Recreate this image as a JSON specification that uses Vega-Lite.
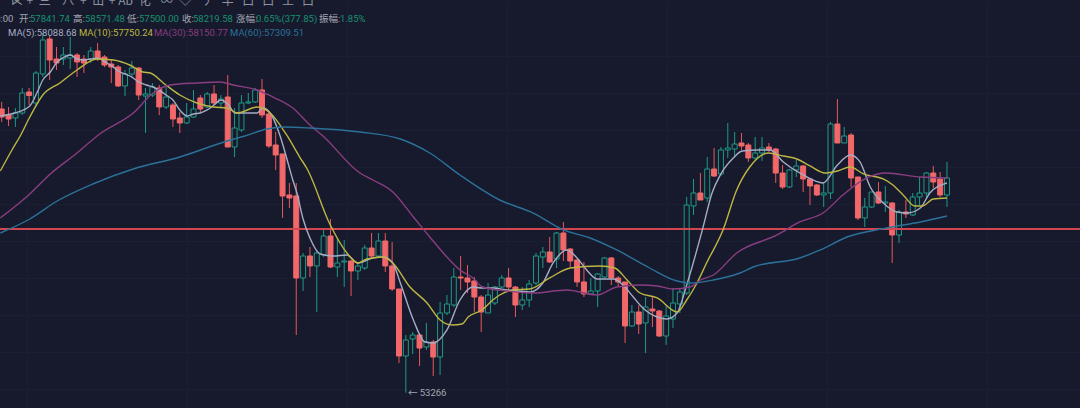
{
  "$schema": "https://vega.github.io/schema/vega-lite/v6.json",
  "width": 1080,
  "height": 408,
  "padding": 0,
  "autosize": "none",
  "background": "#161a2c",
  "config": {"view": {"stroke": null}},
  "datasets": {
    "candles": [
      {"i":0,"open":59720,"high":59880,"low":59425,"close":59538},
      {"i":1,"open":59584,"high":59766,"low":59334,"close":59493},
      {"i":2,"open":59516,"high":59743,"low":59311,"close":59629},
      {"i":3,"open":59629,"high":60198,"low":59584,"close":60084},
      {"i":4,"open":60107,"high":60198,"low":59811,"close":60028},
      {"i":5,"open":59857,"high":60585,"low":59766,"close":60539},
      {"i":6,"open":60517,"high":61449,"low":60448,"close":61290},
      {"i":7,"open":61313,"high":61404,"low":60380,"close":60835},
      {"i":8,"open":60858,"high":61131,"low":60608,"close":60767},
      {"i":9,"open":60858,"high":61131,"low":60721,"close":60949},
      {"i":10,"open":60881,"high":61358,"low":60630,"close":60949},
      {"i":11,"open":60949,"high":60994,"low":60448,"close":60790},
      {"i":12,"open":60858,"high":60949,"low":60539,"close":60767},
      {"i":13,"open":60858,"high":61131,"low":60767,"close":61040},
      {"i":14,"open":61040,"high":61222,"low":60812,"close":60858},
      {"i":15,"open":60903,"high":60949,"low":60676,"close":60721},
      {"i":16,"open":60744,"high":60835,"low":60312,"close":60676},
      {"i":17,"open":60676,"high":60721,"low":60221,"close":60244},
      {"i":18,"open":60244,"high":60608,"low":60016,"close":60517},
      {"i":19,"open":60517,"high":60812,"low":60426,"close":60653},
      {"i":20,"open":60653,"high":60676,"low":59925,"close":60039},
      {"i":21,"open":60016,"high":60198,"low":59174,"close":60062},
      {"i":22,"open":60039,"high":60312,"low":59993,"close":60221},
      {"i":23,"open":60198,"high":60266,"low":59584,"close":59766},
      {"i":24,"open":59766,"high":60221,"low":59720,"close":59993},
      {"i":25,"open":59811,"high":59857,"low":59311,"close":59493},
      {"i":26,"open":59516,"high":59652,"low":59174,"close":59402},
      {"i":27,"open":59402,"high":59857,"low":59379,"close":59538},
      {"i":28,"open":59538,"high":60153,"low":59516,"close":59720},
      {"i":29,"open":59971,"high":60039,"low":59652,"close":59720},
      {"i":30,"open":59766,"high":60107,"low":59743,"close":60062},
      {"i":31,"open":60062,"high":60266,"low":59811,"close":59857},
      {"i":32,"open":59857,"high":60039,"low":59766,"close":59948},
      {"i":33,"open":59993,"high":60494,"low":58856,"close":58856},
      {"i":34,"open":58856,"high":59743,"low":58628,"close":59288},
      {"i":35,"open":59243,"high":60039,"low":59197,"close":59857},
      {"i":36,"open":59857,"high":60084,"low":59834,"close":59880},
      {"i":37,"open":59880,"high":60198,"low":59857,"close":60153},
      {"i":38,"open":60153,"high":60403,"low":59516,"close":59584},
      {"i":39,"open":59607,"high":59652,"low":58833,"close":58879},
      {"i":40,"open":58901,"high":59197,"low":58333,"close":58674},
      {"i":41,"open":58697,"high":58697,"low":57241,"close":57741},
      {"i":42,"open":57764,"high":58037,"low":57468,"close":57696},
      {"i":43,"open":57741,"high":58037,"low":54579,"close":55876},
      {"i":44,"open":55876,"high":56444,"low":55580,"close":56376},
      {"i":45,"open":56376,"high":56581,"low":55898,"close":56149},
      {"i":46,"open":56149,"high":56513,"low":55102,"close":56444},
      {"i":47,"open":56399,"high":56990,"low":56353,"close":56831},
      {"i":48,"open":56831,"high":57218,"low":56103,"close":56126},
      {"i":49,"open":56126,"high":56786,"low":55898,"close":56217},
      {"i":50,"open":56240,"high":56740,"low":55671,"close":56262},
      {"i":51,"open":56262,"high":56285,"low":55466,"close":56035},
      {"i":52,"open":56035,"high":56240,"low":55830,"close":56149},
      {"i":53,"open":56103,"high":56626,"low":56058,"close":56558},
      {"i":54,"open":56558,"high":56899,"low":56353,"close":56376},
      {"i":55,"open":56376,"high":56899,"low":56353,"close":56717},
      {"i":56,"open":56717,"high":56899,"low":56012,"close":56149},
      {"i":57,"open":56149,"high":56695,"low":55580,"close":55625},
      {"i":58,"open":55625,"high":55625,"low":53943,"close":54101},
      {"i":59,"open":54101,"high":54579,"low":53266,"close":54465},
      {"i":60,"open":54488,"high":54647,"low":54147,"close":54579},
      {"i":61,"open":54579,"high":54624,"low":53874,"close":54283},
      {"i":62,"open":54306,"high":54852,"low":54238,"close":54420},
      {"i":63,"open":54420,"high":54465,"low":53646,"close":54078},
      {"i":64,"open":54078,"high":55330,"low":53669,"close":55079},
      {"i":65,"open":55079,"high":55489,"low":55034,"close":55284},
      {"i":66,"open":55261,"high":56103,"low":55216,"close":55898},
      {"i":67,"open":55898,"high":56376,"low":55603,"close":55876},
      {"i":68,"open":55876,"high":56171,"low":55534,"close":55785},
      {"i":69,"open":55807,"high":55898,"low":55102,"close":55443},
      {"i":70,"open":55443,"high":55489,"low":54647,"close":55102},
      {"i":71,"open":55079,"high":55762,"low":55079,"close":55489},
      {"i":72,"open":55307,"high":55694,"low":55261,"close":55671},
      {"i":73,"open":55671,"high":55944,"low":55648,"close":55876},
      {"i":74,"open":55876,"high":56103,"low":55557,"close":55671},
      {"i":75,"open":55671,"high":55694,"low":54988,"close":55261},
      {"i":76,"open":55261,"high":55671,"low":55148,"close":55375},
      {"i":77,"open":55375,"high":55830,"low":55216,"close":55739},
      {"i":78,"open":55762,"high":56444,"low":55716,"close":56376},
      {"i":79,"open":56353,"high":56581,"low":56103,"close":56467},
      {"i":80,"open":56467,"high":56808,"low":56217,"close":56240},
      {"i":81,"open":56308,"high":56922,"low":56103,"close":56899},
      {"i":82,"open":56899,"high":57150,"low":56262,"close":56513},
      {"i":83,"open":56535,"high":56558,"low":56126,"close":56262},
      {"i":84,"open":56285,"high":56308,"low":55671,"close":55785},
      {"i":85,"open":55785,"high":56240,"low":55443,"close":55512},
      {"i":86,"open":55512,"high":55876,"low":55489,"close":55580},
      {"i":87,"open":55580,"high":55989,"low":55216,"close":55967},
      {"i":88,"open":55898,"high":56353,"low":55876,"close":56331},
      {"i":89,"open":56331,"high":56353,"low":55716,"close":55876},
      {"i":90,"open":55876,"high":55921,"low":55671,"close":55785},
      {"i":91,"open":55785,"high":55785,"low":54397,"close":54784},
      {"i":92,"open":54784,"high":55261,"low":54761,"close":55102},
      {"i":93,"open":55102,"high":55261,"low":54602,"close":54829},
      {"i":94,"open":54852,"high":55443,"low":54169,"close":55216},
      {"i":95,"open":55170,"high":55443,"low":54761,"close":55125},
      {"i":96,"open":55125,"high":55148,"low":54533,"close":54556},
      {"i":97,"open":54556,"high":55239,"low":54351,"close":55011},
      {"i":98,"open":54943,"high":55648,"low":54738,"close":55307},
      {"i":99,"open":55284,"high":55625,"low":55079,"close":55557},
      {"i":100,"open":55534,"high":57718,"low":55489,"close":57536},
      {"i":101,"open":57514,"high":58128,"low":57309,"close":57809},
      {"i":102,"open":57809,"high":58264,"low":57650,"close":57650},
      {"i":103,"open":57696,"high":58628,"low":57605,"close":58355},
      {"i":104,"open":58355,"high":58833,"low":58173,"close":58196},
      {"i":105,"open":58242,"high":58856,"low":58196,"close":58788},
      {"i":106,"open":58788,"high":59402,"low":58606,"close":58833},
      {"i":107,"open":58810,"high":59197,"low":58628,"close":58924},
      {"i":108,"open":58947,"high":59174,"low":58788,"close":58879},
      {"i":109,"open":58901,"high":58947,"low":58515,"close":58606},
      {"i":110,"open":58606,"high":59083,"low":58560,"close":58719},
      {"i":111,"open":58719,"high":59083,"low":58537,"close":58833},
      {"i":112,"open":58856,"high":58947,"low":58742,"close":58788},
      {"i":113,"open":58810,"high":58833,"low":58037,"close":58264},
      {"i":114,"open":58264,"high":58446,"low":57900,"close":57946},
      {"i":115,"open":57946,"high":58355,"low":57923,"close":58333},
      {"i":116,"open":58333,"high":58560,"low":58173,"close":58424},
      {"i":117,"open":58424,"high":58446,"low":57832,"close":58128},
      {"i":118,"open":58128,"high":58151,"low":57536,"close":57969},
      {"i":119,"open":57991,"high":58014,"low":57741,"close":57764},
      {"i":120,"open":57764,"high":58037,"low":57491,"close":57809},
      {"i":121,"open":57809,"high":59425,"low":57673,"close":59379},
      {"i":122,"open":59379,"high":59948,"low":58947,"close":58947},
      {"i":123,"open":58947,"high":59311,"low":58947,"close":59106},
      {"i":124,"open":59129,"high":59174,"low":57946,"close":58151},
      {"i":125,"open":58173,"high":58173,"low":57195,"close":57241},
      {"i":126,"open":57241,"high":57696,"low":57036,"close":57491},
      {"i":127,"open":57491,"high":57832,"low":57468,"close":57832},
      {"i":128,"open":57832,"high":58060,"low":57559,"close":57582},
      {"i":129,"open":57582,"high":57969,"low":57377,"close":57605},
      {"i":130,"open":57582,"high":57605,"low":56217,"close":56854},
      {"i":131,"open":56854,"high":57423,"low":56672,"close":57377},
      {"i":132,"open":57377,"high":57650,"low":57241,"close":57332},
      {"i":133,"open":57309,"high":57809,"low":57286,"close":57718},
      {"i":134,"open":57718,"high":58173,"low":57536,"close":57809},
      {"i":135,"open":57809,"high":58287,"low":57718,"close":58264},
      {"i":136,"open":58264,"high":58424,"low":57923,"close":58060},
      {"i":137,"open":58128,"high":58287,"low":57718,"close":57764},
      {"i":138,"open":57764,"high":58515,"low":57491,"close":58151}
    ],
    "ma": [
      {"i":-0.2,"ma":"MA5","price":59561},{"i":1.9,"ma":"MA5","price":59629},{"i":4.1,"ma":"MA5","price":59789},{"i":5.2,"ma":"MA5","price":60107},{"i":6,"ma":"MA5","price":60380},{"i":7.1,"ma":"MA5","price":60562},{"i":8.1,"ma":"MA5","price":60790},{"i":9.1,"ma":"MA5","price":60903},{"i":10,"ma":"MA5","price":60949},{"i":11,"ma":"MA5","price":60858},{"i":12,"ma":"MA5","price":60835},{"i":13,"ma":"MA5","price":60858},{"i":14.1,"ma":"MA5","price":60881},{"i":15.1,"ma":"MA5","price":60790},{"i":16.1,"ma":"MA5","price":60699},{"i":17,"ma":"MA5","price":60585},{"i":18,"ma":"MA5","price":60517},{"i":19,"ma":"MA5","price":60448},{"i":20,"ma":"MA5","price":60335},{"i":21.1,"ma":"MA5","price":60266},{"i":22.1,"ma":"MA5","price":60221},{"i":24,"ma":"MA5","price":60039},{"i":25,"ma":"MA5","price":59925},{"i":26,"ma":"MA5","price":59698},{"i":27.1,"ma":"MA5","price":59561},{"i":28,"ma":"MA5","price":59607},{"i":29,"ma":"MA5","price":59629},{"i":30,"ma":"MA5","price":59698},{"i":31,"ma":"MA5","price":59811},{"i":32,"ma":"MA5","price":59925},{"i":33,"ma":"MA5","price":59834},{"i":34.1,"ma":"MA5","price":59629},{"i":36,"ma":"MA5","price":59629},{"i":37.3,"ma":"MA5","price":59629},{"i":38.1,"ma":"MA5","price":59743},{"i":39.2,"ma":"MA5","price":59629},{"i":40.6,"ma":"MA5","price":59129},{"i":41.8,"ma":"MA5","price":58492},{"i":42.5,"ma":"MA5","price":58105},{"i":43.1,"ma":"MA5","price":57809},{"i":44,"ma":"MA5","price":57218},{"i":45,"ma":"MA5","price":56786},{"i":46.5,"ma":"MA5","price":56422},{"i":48.4,"ma":"MA5","price":56376},{"i":50.4,"ma":"MA5","price":56399},{"i":52,"ma":"MA5","price":56217},{"i":54.2,"ma":"MA5","price":56331},{"i":55.7,"ma":"MA5","price":56353},{"i":57.1,"ma":"MA5","price":56217},{"i":58.2,"ma":"MA5","price":55762},{"i":60.1,"ma":"MA5","price":54920},{"i":61.8,"ma":"MA5","price":54420},{"i":63,"ma":"MA5","price":54397},{"i":65,"ma":"MA5","price":54693},{"i":66.9,"ma":"MA5","price":55375},{"i":68.8,"ma":"MA5","price":55671},{"i":70.1,"ma":"MA5","price":55648},{"i":71.7,"ma":"MA5","price":55648},{"i":73.8,"ma":"MA5","price":55603},{"i":75.2,"ma":"MA5","price":55580},{"i":77.1,"ma":"MA5","price":55557},{"i":79,"ma":"MA5","price":55762},{"i":80.5,"ma":"MA5","price":56217},{"i":82.5,"ma":"MA5","price":56513},{"i":84,"ma":"MA5","price":56331},{"i":85.4,"ma":"MA5","price":56058},{"i":86.9,"ma":"MA5","price":55853},{"i":89.3,"ma":"MA5","price":55853},{"i":90.7,"ma":"MA5","price":55716},{"i":92.2,"ma":"MA5","price":55443},{"i":93.6,"ma":"MA5","price":55193},{"i":95.7,"ma":"MA5","price":54988},{"i":97.1,"ma":"MA5","price":54943},{"i":98.6,"ma":"MA5","price":55079},{"i":100,"ma":"MA5","price":55716},{"i":102.4,"ma":"MA5","price":57036},{"i":103.7,"ma":"MA5","price":57809},{"i":104.9,"ma":"MA5","price":58219},{"i":106.8,"ma":"MA5","price":58606},{"i":108.1,"ma":"MA5","price":58765},{"i":110.3,"ma":"MA5","price":58788},{"i":112.2,"ma":"MA5","price":58788},{"i":114.1,"ma":"MA5","price":58515},{"i":117,"ma":"MA5","price":58219},{"i":119.9,"ma":"MA5","price":58037},{"i":122,"ma":"MA5","price":58446},{"i":123.9,"ma":"MA5","price":58674},{"i":125.3,"ma":"MA5","price":58515},{"i":126.8,"ma":"MA5","price":57946},{"i":128.7,"ma":"MA5","price":57582},{"i":130.7,"ma":"MA5","price":57377},{"i":132.2,"ma":"MA5","price":57354},{"i":134.1,"ma":"MA5","price":57468},{"i":135.5,"ma":"MA5","price":57809},{"i":138,"ma":"MA5","price":58037},
      {"i":-0.2,"ma":"MA10","price":58310},{"i":1.5,"ma":"MA10","price":58788},{"i":2.7,"ma":"MA10","price":59106},{"i":4.1,"ma":"MA10","price":59538},{"i":6,"ma":"MA10","price":60039},{"i":8.5,"ma":"MA10","price":60312},{"i":11,"ma":"MA10","price":60608},{"i":13.9,"ma":"MA10","price":60858},{"i":16.3,"ma":"MA10","price":60835},{"i":18.7,"ma":"MA10","price":60721},{"i":20.6,"ma":"MA10","price":60562},{"i":21.7,"ma":"MA10","price":60539},{"i":23.6,"ma":"MA10","price":60312},{"i":26,"ma":"MA10","price":60039},{"i":28.5,"ma":"MA10","price":59857},{"i":30.9,"ma":"MA10","price":59766},{"i":32.9,"ma":"MA10","price":59743},{"i":34.4,"ma":"MA10","price":59629},{"i":37.3,"ma":"MA10","price":59766},{"i":39.2,"ma":"MA10","price":59629},{"i":41.6,"ma":"MA10","price":59129},{"i":43.5,"ma":"MA10","price":58628},{"i":44.6,"ma":"MA10","price":58355},{"i":47.9,"ma":"MA10","price":57104},{"i":50.4,"ma":"MA10","price":56444},{"i":52,"ma":"MA10","price":56217},{"i":53.3,"ma":"MA10","price":56308},{"i":55.7,"ma":"MA10","price":56353},{"i":57.1,"ma":"MA10","price":56217},{"i":59.6,"ma":"MA10","price":55671},{"i":62.1,"ma":"MA10","price":55307},{"i":64,"ma":"MA10","price":54920},{"i":65.8,"ma":"MA10","price":54806},{"i":67.2,"ma":"MA10","price":54829},{"i":68.1,"ma":"MA10","price":54988},{"i":70.1,"ma":"MA10","price":55148},{"i":71.7,"ma":"MA10","price":55375},{"i":72.7,"ma":"MA10","price":55489},{"i":74.6,"ma":"MA10","price":55603},{"i":77.1,"ma":"MA10","price":55625},{"i":80,"ma":"MA10","price":55876},{"i":83,"ma":"MA10","price":56103},{"i":87.3,"ma":"MA10","price":56149},{"i":89.5,"ma":"MA10","price":56103},{"i":91.3,"ma":"MA10","price":55830},{"i":93.2,"ma":"MA10","price":55534},{"i":95.7,"ma":"MA10","price":55421},{"i":98.6,"ma":"MA10","price":55102},{"i":100,"ma":"MA10","price":55375},{"i":101.5,"ma":"MA10","price":55762},{"i":102.9,"ma":"MA10","price":56217},{"i":105.3,"ma":"MA10","price":56968},{"i":107.3,"ma":"MA10","price":57878},{"i":109.2,"ma":"MA10","price":58401},{"i":111.9,"ma":"MA10","price":58719},{"i":114.1,"ma":"MA10","price":58651},{"i":116.1,"ma":"MA10","price":58583},{"i":118,"ma":"MA10","price":58424},{"i":120.2,"ma":"MA10","price":58264},{"i":122,"ma":"MA10","price":58310},{"i":123.9,"ma":"MA10","price":58401},{"i":125.8,"ma":"MA10","price":58242},{"i":128.7,"ma":"MA10","price":58128},{"i":130.1,"ma":"MA10","price":57991},{"i":131.6,"ma":"MA10","price":57764},{"i":133.3,"ma":"MA10","price":57514},{"i":134.4,"ma":"MA10","price":57514},{"i":136,"ma":"MA10","price":57673},{"i":138,"ma":"MA10","price":57696},
      {"i":-0.2,"ma":"MA30","price":57241},{"i":4.1,"ma":"MA30","price":57787},{"i":7.1,"ma":"MA30","price":58242},{"i":11,"ma":"MA30","price":58719},{"i":14.3,"ma":"MA30","price":59152},{"i":19.2,"ma":"MA30","price":59629},{"i":22.1,"ma":"MA30","price":60084},{"i":24.6,"ma":"MA30","price":60266},{"i":28.5,"ma":"MA30","price":60312},{"i":31.9,"ma":"MA30","price":60335},{"i":33.8,"ma":"MA30","price":60266},{"i":37.3,"ma":"MA30","price":60153},{"i":39.6,"ma":"MA30","price":59993},{"i":42.5,"ma":"MA30","price":59743},{"i":45,"ma":"MA30","price":59356},{"i":46.9,"ma":"MA30","price":59106},{"i":52.3,"ma":"MA30","price":58264},{"i":54.2,"ma":"MA30","price":58105},{"i":57.1,"ma":"MA30","price":57832},{"i":60.1,"ma":"MA30","price":57263},{"i":62.5,"ma":"MA30","price":56808},{"i":65,"ma":"MA30","price":56353},{"i":66.9,"ma":"MA30","price":56058},{"i":68.8,"ma":"MA30","price":55876},{"i":70.2,"ma":"MA30","price":55671},{"i":73.8,"ma":"MA30","price":55580},{"i":77.6,"ma":"MA30","price":55534},{"i":82.5,"ma":"MA30","price":55603},{"i":86.9,"ma":"MA30","price":55489},{"i":89.8,"ma":"MA30","price":55671},{"i":93.2,"ma":"MA30","price":55716},{"i":95.7,"ma":"MA30","price":55694},{"i":98,"ma":"MA30","price":55625},{"i":100.5,"ma":"MA30","price":55671},{"i":102,"ma":"MA30","price":55830},{"i":103.9,"ma":"MA30","price":55944},{"i":107.3,"ma":"MA30","price":56444},{"i":113.2,"ma":"MA30","price":56854},{"i":116.5,"ma":"MA30","price":57150},{"i":119.9,"ma":"MA30","price":57354},{"i":122.8,"ma":"MA30","price":57764},{"i":126.3,"ma":"MA30","price":58151},{"i":129,"ma":"MA30","price":58264},{"i":134.1,"ma":"MA30","price":58173},{"i":138,"ma":"MA30","price":58151},
      {"i":-0.2,"ma":"MA60","price":56899},{"i":4.1,"ma":"MA60","price":57218},{"i":8.1,"ma":"MA60","price":57627},{"i":13.3,"ma":"MA60","price":58014},{"i":19.2,"ma":"MA60","price":58355},{"i":26,"ma":"MA60","price":58628},{"i":32.9,"ma":"MA60","price":58992},{"i":35.5,"ma":"MA60","price":59106},{"i":38.7,"ma":"MA60","price":59265},{"i":41.1,"ma":"MA60","price":59311},{"i":45,"ma":"MA60","price":59288},{"i":52.3,"ma":"MA60","price":59197},{"i":58.2,"ma":"MA60","price":59038},{"i":62.5,"ma":"MA60","price":58719},{"i":66.9,"ma":"MA60","price":58219},{"i":72.7,"ma":"MA60","price":57650},{"i":77.6,"ma":"MA60","price":57354},{"i":82,"ma":"MA60","price":56968},{"i":85.9,"ma":"MA60","price":56786},{"i":89.8,"ma":"MA60","price":56513},{"i":94.6,"ma":"MA60","price":56103},{"i":98.6,"ma":"MA60","price":55807},{"i":100.5,"ma":"MA60","price":55762},{"i":103.9,"ma":"MA60","price":55830},{"i":107.8,"ma":"MA60","price":55989},{"i":109.7,"ma":"MA60","price":56126},{"i":116.5,"ma":"MA60","price":56331},{"i":119.5,"ma":"MA60","price":56513},{"i":123.4,"ma":"MA60","price":56808},{"i":129.2,"ma":"MA60","price":57013},{"i":134.1,"ma":"MA60","price":57150},{"i":138,"ma":"MA60","price":57286}
    ],
    "labels": [
      {"i":-0.98,"price":61768,"label":"5:00","kind":"name"},
      {"i":2.53,"price":61768,"label":"开:","kind":"name"},
      {"i":4.13,"price":61768,"label":"57841.74","kind":"value"},
      {"i":10.41,"price":61768,"label":"高:","kind":"name"},
      {"i":12.16,"price":61768,"label":"58571.48","kind":"value"},
      {"i":18.29,"price":61768,"label":"低:","kind":"name"},
      {"i":20.04,"price":61768,"label":"57500.00","kind":"value"},
      {"i":26.32,"price":61768,"label":"收:","kind":"name"},
      {"i":27.93,"price":61768,"label":"58219.58","kind":"value"},
      {"i":34.2,"price":61768,"label":"涨幅:","kind":"name"},
      {"i":37.12,"price":61768,"label":"0.65%(377.85)","kind":"value"},
      {"i":46.32,"price":61768,"label":"振幅:","kind":"name"},
      {"i":49.39,"price":61768,"label":"1.85%","kind":"value"},
      {"i":0.92,"price":61449,"label":"MA(5):58088.68","kind":"MA5"},
      {"i":11.28,"price":61449,"label":"MA(10):57750.24","kind":"MA10"},
      {"i":22.23,"price":61449,"label":"MA(30):58150.77","kind":"MA30"},
      {"i":33.33,"price":61449,"label":"MA(60):57309.51","kind":"MA60"},
      {"i":59.3,"price":53259,"label":"← 53266","kind":"low"}
    ],
    "icons": [
      {"i":2.2,"price":62177,"label":"⋉"},{"i":4.1,"price":62177,"label":"+"},{"i":6.3,"price":62177,"label":"三"},{"i":9.7,"price":62177,"label":"八"},{"i":11.9,"price":62177,"label":"+"},{"i":14.1,"price":62177,"label":"山"},{"i":16.1,"price":62177,"label":"+"},{"i":18.1,"price":62177,"label":"Ab"},{"i":20.9,"price":62177,"label":"化"},{"i":24.1,"price":62177,"label":"∞"},{"i":26.8,"price":62177,"label":"◇"},{"i":30.1,"price":62177,"label":"丿"},{"i":33,"price":62177,"label":"丰"},{"i":36,"price":62177,"label":"口"},{"i":38.9,"price":62177,"label":"口"},{"i":41.8,"price":62177,"label":"土"},{"i":44.7,"price":62177,"label":"口"}
    ],
    "level": [{"price":56990}]
  },
  "encoding": {
    "x": {
      "field": "i",
      "type": "quantitative",
      "scale": {"domain": [-0.248, 157.42], "nice": false, "zero": false, "padding": 0},
      "axis": {"title": null, "labels": false, "ticks": false, "domain": false, "values": [3.7, 27.05, 50.4, 73.8, 97.1, 120.5, 143.8], "gridColor": "#1b1f34"}
    }
  },
  "layer": [
    {
      "data": {"name": "candles"},
      "mark": {"type": "rule", "strokeWidth": 1},
      "encoding": {
        "y": {
          "field": "low",
          "type": "quantitative",
          "scale": {"domain": [52918, 62200], "nice": false, "zero": false, "padding": 0},
          "axis": {"title": null, "labels": false, "ticks": false, "domain": false, "values": [53350, 54192, 55034, 55876, 56717, 57559, 58401, 59243, 60084, 60926], "gridColor": "#1b1f34"}
        },
        "y2": {"field": "high"},
        "color": {"condition": {"test": "datum.close > datum.open", "value": "#1f9a86"}, "value": "#e8585c"}
      }
    },
    {
      "data": {"name": "candles"},
      "mark": {"type": "bar", "orient": "vertical", "width": 5, "strokeWidth": 1},
      "encoding": {
        "y": {"field": "open", "type": "quantitative"},
        "y2": {"field": "close"},
        "fill": {"condition": {"test": "datum.close > datum.open", "value": "#161a2c"}, "value": "#f2686a"},
        "stroke": {"condition": {"test": "datum.close > datum.open", "value": "#1f9a86"}, "value": "#f2686a"}
      }
    },
    {
      "data": {"name": "level"},
      "mark": {"type": "rule", "color": "#d2474f", "strokeWidth": 2},
      "encoding": {
        "x": {"value": 0},
        "x2": {"value": 1080},
        "y": {"field": "price", "type": "quantitative"}
      }
    },
    {
      "data": {"name": "ma"},
      "mark": {"type": "line", "interpolate": "monotone", "strokeWidth": 1.4},
      "encoding": {
        "y": {"field": "price", "type": "quantitative"},
        "detail": {"field": "ma"},
        "color": {
          "field": "ma",
          "type": "nominal",
          "legend": null,
          "scale": {
            "domain": ["MA5", "MA10", "MA30", "MA60", "name", "value", "low"],
            "range": ["#a6acc6", "#bdb643", "#8a3d80", "#2c7199", "#a3a7b3", "#17916f", "#a3a7b3"]
          }
        }
      }
    },
    {
      "data": {"name": "icons"},
      "mark": {"type": "text", "align": "center", "baseline": "middle", "font": "Noto Sans CJK SC", "fontSize": 12, "color": "#8f93a0"},
      "encoding": {
        "y": {"field": "price", "type": "quantitative"},
        "text": {"field": "label"}
      }
    },
    {
      "data": {"name": "labels"},
      "mark": {"type": "text", "align": "left", "baseline": "middle", "font": "Roboto, Noto Sans CJK SC", "fontSize": 9.5},
      "encoding": {
        "y": {"field": "price", "type": "quantitative"},
        "text": {"field": "label"},
        "color": {"field": "kind", "type": "nominal", "legend": null}
      }
    }
  ]
}
